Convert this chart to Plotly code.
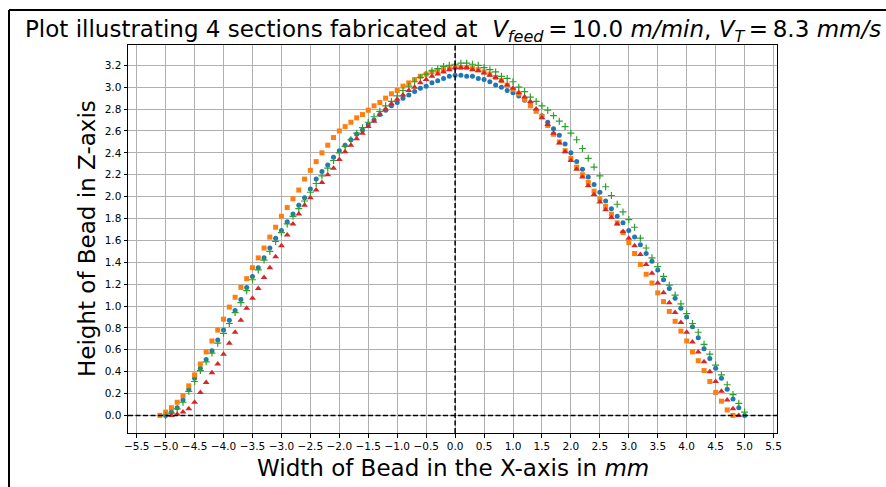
import plotly.graph_objects as go

# ---------------- data ----------------
X_MM = [
    -5.1, -5.0, -4.9, -4.8, -4.7, -4.6, -4.5, -4.4, -4.3, -4.2,
    -4.1, -4.0, -3.9, -3.8, -3.7, -3.6, -3.5, -3.4, -3.3, -3.2,
    -3.1, -3.0, -2.9, -2.8, -2.7, -2.6, -2.5, -2.4, -2.3, -2.2,
    -2.1, -2.0, -1.9, -1.8, -1.7, -1.6, -1.5, -1.4, -1.3, -1.2,
    -1.1, -1.0, -0.9, -0.8, -0.7, -0.6, -0.5, -0.4, -0.3, -0.2,
    -0.1, 0.0, 0.1, 0.2, 0.3, 0.4, 0.5, 0.6, 0.7, 0.8,
    0.9, 1.0, 1.1, 1.2, 1.3, 1.4, 1.5, 1.6, 1.7, 1.8,
    1.9, 2.0, 2.1, 2.2, 2.3, 2.4, 2.5, 2.6, 2.7, 2.8,
    2.9, 3.0, 3.1, 3.2, 3.3, 3.4, 3.5, 3.6, 3.7, 3.8,
    3.9, 4.0, 4.1, 4.2, 4.3, 4.4, 4.5, 4.6, 4.7, 4.8,
    4.9, 5.0,
]

SECTION_1 = [  # blue circles
    None, 0.00, 0.03, 0.07, 0.14, 0.24, 0.34, 0.43, 0.51, 0.59,
    0.69, 0.78, 0.87, 0.96, 1.06, 1.17, 1.27, 1.35, 1.44, 1.53,
    1.62, 1.69, 1.77, 1.84, 1.92, 1.99, 2.07, 2.16, 2.23, 2.29,
    2.36, 2.42, 2.47, 2.52, 2.57, 2.61, 2.66, 2.70, 2.75, 2.79,
    2.83, 2.86, 2.90, 2.93, 2.96, 2.99, 3.01, 3.04, 3.06, 3.08,
    3.10, 3.11, 3.11, 3.10, 3.10, 3.08, 3.07, 3.05, 3.02, 3.00,
    2.97, 2.95, 2.92, 2.88, 2.84, 2.79, 2.74, 2.68, 2.62, 2.56,
    2.48, 2.40, 2.32, 2.25, 2.18, 2.11, 2.04, 1.96, 1.89, 1.82,
    1.76, 1.69, 1.63, 1.56, 1.48, 1.41, 1.33, 1.24, 1.16, 1.07,
    0.98, 0.90, 0.81, 0.71, 0.61, 0.52, 0.43, 0.34, 0.24, 0.15,
    0.07, 0.00,
]

SECTION_2 = [  # orange squares
    0.00, 0.03, 0.07, 0.12, 0.18, 0.27, 0.37, 0.47, 0.58, 0.68,
    0.78, 0.88, 0.99, 1.08, 1.17, 1.25, 1.35, 1.44, 1.53, 1.63,
    1.72, 1.82, 1.90, 1.98, 2.06, 2.16, 2.24, 2.32, 2.40, 2.47,
    2.54, 2.60, 2.64, 2.68, 2.72, 2.75, 2.79, 2.83, 2.86, 2.90,
    2.94, 2.97, 3.01, 3.04, 3.07, 3.10, 3.12, 3.14, 3.15, 3.16,
    3.17, 3.18, 3.18, 3.18, 3.17, 3.16, 3.14, 3.12, 3.09, 3.06,
    3.02, 2.98, 2.94, 2.89, 2.83, 2.78, 2.73, 2.65, 2.57, 2.50,
    2.42, 2.35, 2.27, 2.20, 2.13, 2.05, 1.98, 1.91, 1.84, 1.76,
    1.67, 1.58, 1.48, 1.38, 1.29, 1.21, 1.12, 1.04, 0.95, 0.86,
    0.77, 0.68, 0.58, 0.50, 0.41, 0.31, 0.21, 0.13, 0.05, 0.00,
    None, None,
]

SECTION_3 = [  # green plus markers
    None, 0.00, 0.02, 0.06, 0.12, 0.22, 0.31, 0.41, 0.49, 0.57,
    0.66, 0.75, 0.84, 0.94, 1.03, 1.14, 1.24, 1.33, 1.42, 1.50,
    1.59, 1.67, 1.75, 1.82, 1.89, 1.96, 2.04, 2.12, 2.19, 2.26,
    2.33, 2.40, 2.46, 2.52, 2.58, 2.63, 2.68, 2.73, 2.78, 2.83,
    2.87, 2.92, 2.97, 3.01, 3.05, 3.09, 3.12, 3.15, 3.17, 3.19,
    3.20, 3.21, 3.22, 3.22, 3.21, 3.20, 3.18, 3.16, 3.14, 3.10,
    3.08, 3.05, 3.00, 2.96, 2.91, 2.87, 2.83, 2.79, 2.74, 2.69,
    2.64, 2.58, 2.52, 2.44, 2.35, 2.27, 2.19, 2.09, 2.01, 1.93,
    1.86, 1.79, 1.72, 1.62, 1.53, 1.44, 1.36, 1.27, 1.19, 1.10,
    1.02, 0.93, 0.84, 0.76, 0.65, 0.56, 0.46, 0.37, 0.28, 0.19,
    0.11, 0.03,
]

SECTION_4 = [  # red triangles
    None, None, 0.00, 0.01, 0.03, 0.06, 0.12, 0.21, 0.30, 0.39,
    0.47, 0.56, 0.66, 0.76, 0.87, 0.98, 1.07, 1.16, 1.26, 1.35,
    1.45, 1.55, 1.65, 1.75, 1.84, 1.92, 1.99, 2.06, 2.13, 2.20,
    2.26, 2.34, 2.41, 2.47, 2.53, 2.58, 2.64, 2.69, 2.75, 2.80,
    2.85, 2.89, 2.93, 2.97, 3.00, 3.04, 3.07, 3.10, 3.12, 3.14,
    3.16, 3.18, 3.18, 3.18, 3.16, 3.15, 3.13, 3.11, 3.09, 3.06,
    3.02, 2.99, 2.95, 2.91, 2.87, 2.80, 2.72, 2.66, 2.58, 2.49,
    2.41, 2.33, 2.25, 2.18, 2.10, 2.02, 1.95, 1.88, 1.81, 1.75,
    1.68, 1.62, 1.55, 1.47, 1.38, 1.30, 1.21, 1.12, 1.03, 0.94,
    0.85, 0.76, 0.67, 0.58, 0.49, 0.40, 0.31, 0.22, 0.14, 0.06,
    0.00, None,
]

XTICKS = [-5.5, -5.0, -4.5, -4.0, -3.5, -3.0, -2.5, -2.0, -1.5, -1.0, -0.5,
          0.0, 0.5, 1.0, 1.5, 2.0, 2.5, 3.0, 3.5, 4.0, 4.5, 5.0, 5.5]
XTICK_LABELS = ["\u22125.5", "\u22125.0", "\u22124.5", "\u22124.0", "\u22123.5",
                "\u22123.0", "\u22122.5", "\u22122.0", "\u22121.5", "\u22121.0",
                "\u22120.5", "0.0", "0.5", "1.0", "1.5", "2.0", "2.5", "3.0",
                "3.5", "4.0", "4.5", "5.0", "5.5"]
YTICKS = [0.0, 0.2, 0.4, 0.6, 0.8, 1.0, 1.2, 1.4, 1.6, 1.8, 2.0, 2.2, 2.4,
          2.6, 2.8, 3.0, 3.2]
YTICK_LABELS = ["0.0", "0.2", "0.4", "0.6", "0.8", "1.0", "1.2", "1.4", "1.6",
                "1.8", "2.0", "2.2", "2.4", "2.6", "2.8", "3.0", "3.2"]

TITLE = ("Plot illustrating 4 sections fabricated at &nbsp;<i>V</i><sub><i>feed</i></sub>"
         "\u2009=\u200910.0 <i>m/min</i>, <i>V</i><sub><i>T</i></sub>\u2009=\u20098.3 <i>mm/s</i>")
XLABEL = "Width of Bead in the X-axis in <i>mm</i>"
YLABEL = "Height of Bead in Z-axis"

# ---------------- figure ----------------
FONT = "DejaVu Sans"
series = [
    (SECTION_1, "#1f77b4", "circle", 5, 0),
    (SECTION_2, "#ff7f0e", "square", 5, 0),
    (SECTION_3, "#2ca02c", "cross-thin", 5, 1.2),
    (SECTION_4, "#d62728", "triangle-up", 6, 0),
]

fig = go.Figure()
for i, (ys, color, symbol, size, lw) in enumerate(series):
    fig.add_trace(go.Scatter(
        x=X_MM, y=ys, mode="markers", name=f"Section {i + 1}",
        marker=dict(symbol=symbol, size=size, color=color,
                    line=dict(width=lw, color=color)),
        showlegend=False,
    ))

L, R, T, B = 128, 109, 45, 54
W, H = 886, 487
pw, ph = W - L - R, H - T - B

axis_common = dict(
    showgrid=True, gridcolor="#b0b0b0", gridwidth=0.8,
    zeroline=False, showline=True, linecolor="black", linewidth=1,
    mirror=True, ticks="outside", ticklen=3.5, tickwidth=1, tickcolor="black",
    tickfont=dict(family=FONT, size=10.5, color="black"),
)

fig.update_layout(
    width=W, height=H,
    margin=dict(l=L, r=R, t=T, b=B, pad=0),
    paper_bgcolor="white", plot_bgcolor="white",
    xaxis=dict(range=[-5.65, 5.56], tickmode="array", tickvals=XTICKS,
               ticktext=XTICK_LABELS, **axis_common),
    yaxis=dict(range=[-0.161, 3.386], tickmode="array", tickvals=YTICKS,
               ticktext=YTICK_LABELS, **axis_common),
    shapes=[
        dict(type="line", xref="paper", yref="y", x0=0, x1=1, y0=0, y1=0,
             line=dict(color="black", width=1.5, dash="5px,2.5px")),
        dict(type="line", xref="x", yref="paper", x0=0, x1=0, y0=0, y1=1,
             line=dict(color="black", width=1.5, dash="5px,2.5px")),
        # outer figure frame (left and top edges visible)
        dict(type="line", xref="paper", yref="paper",
             x0=(9 - L) / pw, x1=(9 - L) / pw, y0=(B - H) / ph - 0.2, y1=(H - B - 10) / ph,
             line=dict(color="black", width=2)),
        dict(type="line", xref="paper", yref="paper",
             x0=(9 - L) / pw, x1=1.5, y0=(H - B - 10) / ph, y1=(H - B - 10) / ph,
             line=dict(color="black", width=2)),
    ],
    annotations=[
        dict(text=TITLE, xref="paper", yref="paper", x=0.5, y=(H - B - 31) / ph,
             xanchor="center", yanchor="middle", showarrow=False,
             font=dict(family=FONT, size=23, color="black")),
        dict(text=XLABEL, xref="paper", yref="paper", x=0.5, y=(H - B - 468) / ph,
             xanchor="center", yanchor="middle", showarrow=False,
             font=dict(family=FONT, size=23, color="black")),
        dict(text=YLABEL, xref="paper", yref="paper", x=(87 - L) / pw, y=0.5,
             xanchor="center", yanchor="middle", showarrow=False, textangle=-90,
             font=dict(family=FONT, size=23, color="black")),
    ],
)

fig.write_html(
    "out.html",
    config={"displayModeBar": False},
    post_script="document.body.style.margin='0px';document.body.style.overflow='hidden';",
)
